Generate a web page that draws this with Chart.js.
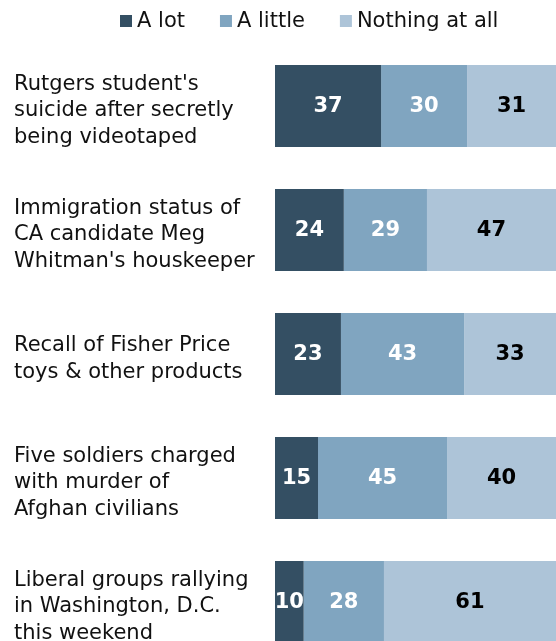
<!DOCTYPE html>
<html>
<head>
<meta charset="utf-8">
<script src="https://cdn.jsdelivr.net/npm/chart.js@4/dist/chart.umd.min.js"></script>
<style>
  html, body { margin: 0; padding: 0; background: #fff; overflow: hidden; }
  canvas { display: block; }
</style>
</head>
<body>
<canvas id="newsChart" width="556" height="664"></canvas>
<script>
const categories = [
  ["Rutgers student's", 'suicide after secretly', 'being videotaped'],
  ['Immigration status of', 'CA candidate Meg', "Whitman's houskeeper"],
  ['Recall of Fisher Price', 'toys & other products'],
  ['Five soldiers charged', 'with murder of', 'Afghan civilians'],
  ['Liberal groups rallying', 'in Washington, D.C.', 'this weekend'],
]
const seriesNames = ['A lot', 'A little', 'Nothing at all']
const aLot = [37, 24, 23, 15, 10]
const aLittle = [30, 29, 43, 45, 28]
const nothingAtAll = [31, 47, 33, 40, 61]

const colors = ['#344f63', '#80a5c0', '#adc4d8']
const labelColors = ['#ffffff', '#ffffff', '#000000']

// legend drawn by hand so it sits where the original has it
const topLegend = {
  id: 'topLegend',
  afterDraw(chart) {
    const ctx = chart.ctx
    ctx.save()
    ctx.font = '21px "DejaVu Sans"'
    ctx.textBaseline = 'middle'
    ctx.textAlign = 'left'
    let x = 120
    const y = 21
    chart.data.datasets.forEach((ds) => {
      ctx.fillStyle = ds.backgroundColor
      ctx.fillRect(x, y - 6, 12, 12)
      ctx.fillStyle = '#111'
      ctx.fillText(ds.label, x + 17, y + 1)
      x += 17 + ctx.measureText(ds.label).width + 35
    })
    ctx.restore()
  },
}

// value labels in the middle of every segment
const valueLabels = {
  id: 'valueLabels',
  afterDatasetsDraw(chart) {
    const ctx = chart.ctx
    ctx.save()
    ctx.font = 'bold 21px "DejaVu Sans"'
    ctx.textAlign = 'center'
    ctx.textBaseline = 'middle'
    chart.data.datasets.forEach((ds, i) => {
      chart.getDatasetMeta(i).data.forEach((bar, j) => {
        const p = bar.getProps(['x', 'y', 'base'], true)
        const right = Math.min(p.x, chart.chartArea.right)
        ctx.fillStyle = labelColors[i]
        ctx.fillText(ds.data[j], (p.base + right) / 2, p.y + 1)
      })
    })
    ctx.restore()
  },
}

const ctx = document.getElementById('newsChart')
new Chart(ctx, {
  type: 'bar',
  data: {
    labels: categories,
    datasets: [aLot, aLittle, nothingAtAll].map((d, i) => ({
      label: seriesNames[i],
      data: d,
      backgroundColor: colors[i],
      borderWidth: 0,
      barPercentage: 0.66,
      categoryPercentage: 1,
    })),
  },
  options: {
    indexAxis: 'y',
    responsive: false,
    animation: false,
    devicePixelRatio: 1,
    layout: { padding: { top: 44, left: 14, right: 0, bottom: 0 } },
    plugins: {
      legend: { display: false },
      tooltip: { enabled: false },
    },
    scales: {
      x: { stacked: true, display: false, min: 0, max: 98 },
      y: {
        stacked: true,
        grid: { display: false },
        border: { display: false },
        afterFit(scale) {
          scale.width = 261
          scale.paddingTop = 0
          scale.paddingBottom = 0
        },
        ticks: {
          crossAlign: 'far',
          labelOffset: 5,
          color: '#111',
          font: { family: 'DejaVu Sans', size: 21, lineHeight: 1.27 },
        },
      },
    },
  },
  plugins: [topLegend, valueLabels],
})
</script>
</body>
</html>
